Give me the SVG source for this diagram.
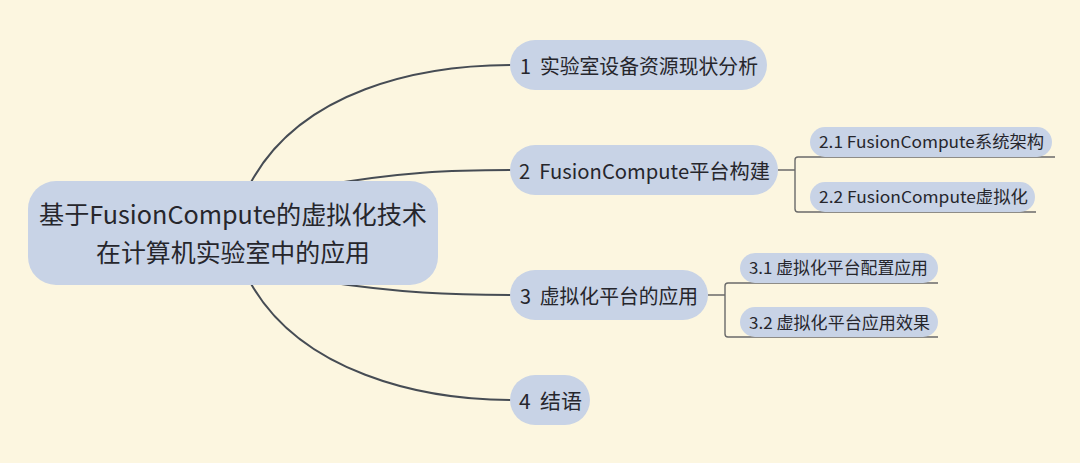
<svg xmlns="http://www.w3.org/2000/svg" width="1080" height="463" viewBox="0 0 1080 463" xml:space="preserve">
<style>
.pill{fill:#C8D3E6;}
.t{font-family:"Microsoft YaHei","Noto Sans CJK SC",sans-serif;fill:#26262C;white-space:pre;}
.main{font-size:20.5px;}
.sub{font-size:16.5px;}
.root{font-size:24.5px;}
.curve{fill:none;stroke:#464C54;stroke-width:2;}
.br{fill:none;stroke:#6A6A6A;stroke-width:1.4;}
</style>
<rect x="0" y="0" width="1080" height="463" fill="#FCF6E0"/>
<g id="connectors">
<path class="curve" d="M250,184 C300,90 420,65 512,65"/>
<path class="curve" d="M320,186 C400,172 450,170 512,170"/>
<path class="curve" d="M320,281 C400,293 450,295 512,295"/>
<path class="curve" d="M250,282 C300,372 420,400 512,400"/>
<path class="br" d="M778,170 H795 M1055,157 H798 Q795,157 795,160 V209 Q795,212 798,212 H1036"/>
<path class="br" d="M708,295 H725 M938,283 H728 Q725,283 725,286 V334 Q725,337 728,337 H938"/>
</g>
<g id="root">
<rect class="pill" x="28" y="181" width="410" height="104" rx="28"/>
<text class="t root" x="39" y="224" textLength="388" lengthAdjust="spacingAndGlyphs">基于FusionCompute的虚拟化技术</text>
<text class="t root" x="96" y="262" textLength="274" lengthAdjust="spacingAndGlyphs">在计算机实验室中的应用</text>
</g>
<g id="n1">
<rect class="pill" x="510" y="40" width="257" height="50" rx="25"/>
<text class="t main" x="520" y="74" textLength="238" lengthAdjust="spacingAndGlyphs">1  实验室设备资源现状分析</text>
</g>
<g id="n2">
<rect class="pill" x="510" y="145" width="268" height="50" rx="25"/>
<text class="t main" x="519" y="179" textLength="251" lengthAdjust="spacingAndGlyphs">2  FusionCompute平台构建</text>
</g>
<g id="n21">
<rect class="pill" x="810" y="127" width="242" height="30" rx="15"/>
<text class="t sub" x="819" y="148" textLength="225" lengthAdjust="spacingAndGlyphs">2.1 FusionCompute系统架构</text>
</g>
<g id="n22">
<rect class="pill" x="810" y="182" width="225" height="30" rx="15"/>
<text class="t sub" x="819" y="203" textLength="209" lengthAdjust="spacingAndGlyphs">2.2 FusionCompute虚拟化</text>
</g>
<g id="n3">
<rect class="pill" x="510" y="270" width="198" height="50" rx="25"/>
<text class="t main" x="520" y="304" textLength="178" lengthAdjust="spacingAndGlyphs">3  虚拟化平台的应用</text>
</g>
<g id="n31">
<rect class="pill" x="740" y="253" width="198" height="30" rx="15"/>
<text class="t sub" x="749" y="274" textLength="179" lengthAdjust="spacingAndGlyphs">3.1 虚拟化平台配置应用</text>
</g>
<g id="n32">
<rect class="pill" x="740" y="307" width="198" height="30" rx="15"/>
<text class="t sub" x="749" y="329" textLength="181" lengthAdjust="spacingAndGlyphs">3.2 虚拟化平台应用效果</text>
</g>
<g id="n4">
<rect class="pill" x="510" y="375" width="80" height="50" rx="25"/>
<text class="t main" x="519" y="409" textLength="63" lengthAdjust="spacingAndGlyphs">4  结语</text>
</g>
</svg>
